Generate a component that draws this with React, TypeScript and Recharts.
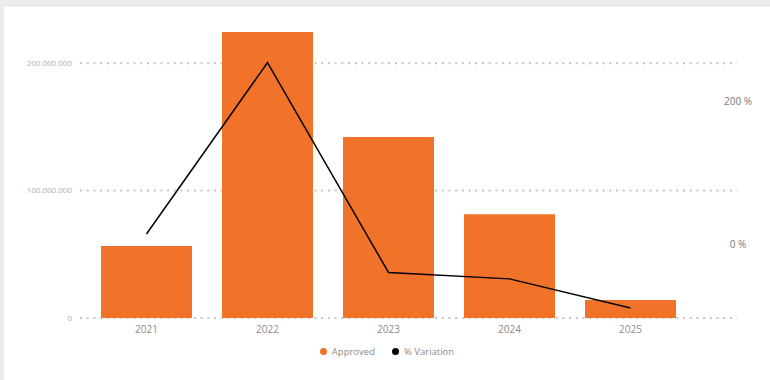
import React from 'react';
import { ComposedChart, Bar, Line, XAxis, YAxis, CartesianGrid, Legend } from 'recharts';

const years = ['2021', '2022', '2023', '2024', '2025'];
const approved = [56600000, 224500000, 142000000, 81500000, 14100000];
const variation = [14, 255, -40, -49, -90];
const leftTicks = [0, 100000000, 200000000];
const rightTicks = [0, 200];

const ORANGE = '#f17229';
const FONT = '"Open Sans", sans-serif';

const data = years.map((year, i) => ({ year, approved: approved[i], variation: variation[i] }));

const dotted = (v: number) => String(v).replace(/\B(?=(\d{3})+(?!\d))/g, '.');

const RightTick = ({ x, y, payload }: any) => (
  <text x={x + 1} y={y} dy="0.355em" textAnchor="middle" fontSize={10} fill="#7a7a7a" fontFamily={FONT}>
    {payload.value} %
  </text>
);

const LegendContent = () => (
  <div style={{ display: 'flex', justifyContent: 'center', alignItems: 'center', fontFamily: FONT, fontSize: 9.5, color: '#8a8a8a' }}>
    <span style={{ display: 'inline-block', width: 7, height: 7, borderRadius: '50%', background: ORANGE, marginRight: 5 }} />
    <span style={{ marginRight: 17 }}>Approved</span>
    <span style={{ display: 'inline-block', width: 7, height: 7, borderRadius: '50%', background: '#000', marginRight: 5 }} />
    <span>% Variation</span>
  </div>
);

const App: React.FC = () => {
  return (
    <div style={{ position: 'fixed', inset: 0, background: '#ececec' }}>
      <div style={{ position: 'absolute', left: 4, top: 7, width: 766, height: 373, background: '#fff' }}>
        <ComposedChart width={766} height={373} data={data} margin={{ top: 25, right: 0, left: 0, bottom: 32 }} barCategoryGap="12.4%">
          <CartesianGrid
            yAxisId="left"
            vertical={false}
            horizontalValues={leftTicks}
            stroke="#c4c4c4"
            strokeWidth={2}
            strokeDasharray="2 4.7"
          />
          <XAxis
            dataKey="year"
            axisLine={false}
            tickLine={false}
            padding={{ left: 6, right: 46 }}
            tick={{ fontSize: 10, fill: '#8a8a8a', fontFamily: FONT }}
          />
          <YAxis
            yAxisId="left"
            width={76}
            domain={[0, 'dataMax']}
            ticks={leftTicks}
            axisLine={false}
            tickLine={false}
            tickFormatter={dotted}
            tick={{ fontSize: 8, fill: '#b0b0b0', fontFamily: FONT }}
          />
          <YAxis
            yAxisId="right"
            orientation="right"
            width={33}
            domain={[-104, 298]}
            ticks={rightTicks}
            axisLine={false}
            tickLine={false}
            tickSize={0}
            tickMargin={0}
            tick={<RightTick />}
          />
          <Legend verticalAlign="middle" content={<LegendContent />} wrapperStyle={{ top: 338, left: 0, width: 766 }} />
          <Bar yAxisId="left" dataKey="approved" name="Approved" fill={ORANGE} isAnimationActive={false} />
          <Line yAxisId="right" type="linear" dataKey="variation" name="% Variation" stroke="#000" strokeWidth={1.5} dot={false} activeDot={false} isAnimationActive={false} />
        </ComposedChart>
      </div>
    </div>
  );
};

export default App;
